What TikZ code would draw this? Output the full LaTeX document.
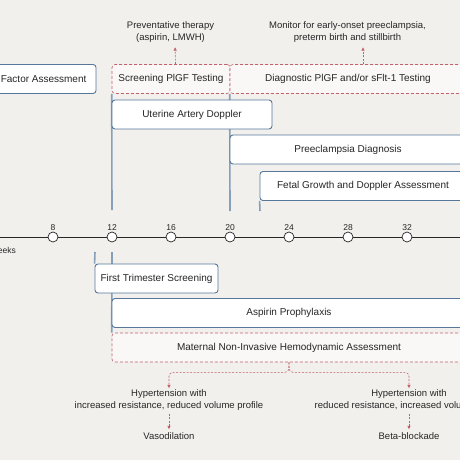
\documentclass[tikz,border=0pt]{standalone}
\usepackage{fontspec}
\setmainfont{Liberation Sans}
\usepackage{tikz}
\usetikzlibrary{arrows.meta,positioning,backgrounds}
\definecolor{bggray}{HTML}{F2F0ED}
\definecolor{boxline}{HTML}{56779A}
\definecolor{stemline}{HTML}{86A0B9}
\definecolor{dashred}{HTML}{C0616B}
\definecolor{inkgray}{HTML}{262626}

\begin{document}
\begin{tikzpicture}[
  x=1pt,y=-1pt,
  box/.style={draw=boxline,line width=0.9pt,rounded corners=3pt,fill=white,minimum height=29pt,
              inner sep=0pt,font=\fontsize{10}{12}\selectfont,text=inkgray},
  dbox/.style={box,draw=dashred,line width=0.6pt,dash pattern=on 3pt off 2pt,fill=white!55!bggray},
  note/.style={align=center,font=\fontsize{9.5}{12}\selectfont,text=inkgray,inner sep=1pt},
  wknum/.style={font=\fontsize{8.5}{10}\selectfont,text=inkgray,inner sep=1pt},
  week/.style={circle,draw=inkgray,fill=white,line width=0.7pt,minimum size=10pt,inner sep=0pt,
               label distance=8pt},
  axis/.style={draw=inkgray,line width=0.7pt},
  stem/.style={draw=stemline,line width=1.6pt},
  arrow/.style={-{Latex[length=3.5pt,width=3.5pt]},dashred,line width=0.6pt,dash pattern=on 2pt off 1.5pt},
]
\useasboundingbox (0,0) rectangle (460,460);
\node[box,minimum width=127pt] (risk) at (32.5,79) {Risk Factor Assessment};
\node[dbox,minimum width=118pt] (plgf) at (171,79) {Screening PlGF Testing};
\node[dbox,minimum width=236pt] (diag) at (348,79) {Diagnostic PlGF and/or sFlt-1 Testing};
\node[box,minimum width=160pt] (uad) at (192,114.5) {Uterine Artery Doppler};
\node[box,minimum width=236pt] (pec) at (348,149.5) {Preeclampsia Diagnosis};
\node[box,minimum width=206pt] (fgd) at (363,186) {Fetal Growth and Doppler Assessment};
\node[note] (prev) at (170.5,32.5) {Preventative therapy\\(aspirin, LMWH)};
\node[note] (mon) at (347.5,32.5) {Monitor for early-onset preeclampsia,\\preterm birth and stillbirth};
\draw[arrow,shorten >=3pt] ([xshift=4.5pt]plgf.north) -- ([xshift=4.5pt]prev.south);
\draw[arrow,shorten >=3pt] ([xshift=15pt]diag.north) -- ([xshift=15.5pt]mon.south);

\coordinate (tl) at (-10,237);
\coordinate (tr) at (470,237);
\draw[axis] (tl) -- (tr);
\foreach \w in {8,12,...,32}
  \node[week,label={[wknum]above:\w}] (wk\w) at ({112+(\w-12)*14.75},237) {};
\node[wknum,anchor=east] (wklbl) at (17,250) {Weeks};

\node[box,minimum width=123pt] (fts) at (156.5,278.5) {First Trimester Screening};
\node[box,minimum width=354pt] (asp) at (289,313) {Aspirin Prophylaxis};
\node[dbox,minimum width=354pt] (mnh) at (289,347.5) {Maternal Non-Invasive Hemodynamic Assessment};
\node[note] (hyp1) at (169,400) {Hypertension with\\increased resistance, reduced volume profile};
\node[note] (hyp2) at (409,400) {Hypertension with\\reduced resistance, increased volume profile};
\node[note] (vaso) at (169,436) {Vasodilation};
\node[note] (beta) at (409,436) {Beta-blockade};
\draw[arrow,rounded corners=4pt] (mnh.south) -- ++(0,10) -| (hyp1.north);
\draw[arrow,rounded corners=4pt] (mnh.south) -- ++(0,10) -| (hyp2.north);
\draw[arrow,shorten <=2pt,shorten >=2pt] (hyp1) -- (vaso);
\draw[arrow,shorten <=2pt,shorten >=2pt] (hyp2) -- (beta);

\coordinate (s12a) at (112,210);
\coordinate (s20a) at (230,211);
\coordinate (s22a) at (260,211);
\coordinate (s11b) at (95,252);
\coordinate (s12b) at (112,252);
\begin{scope}[on background layer]
\fill[bggray] (0,0) rectangle (460,460);
\draw[stem] (plgf.south west) -- (s12a);
\draw[stem] (diag.south west) -- (s20a);
\draw[stem] (fgd.south west) -- (s22a);
\draw[stem] (s11b) -- (fts.north west);
\draw[stem] (s12b) -- (mnh.north west);
\end{scope}
\end{tikzpicture}
\end{document}
